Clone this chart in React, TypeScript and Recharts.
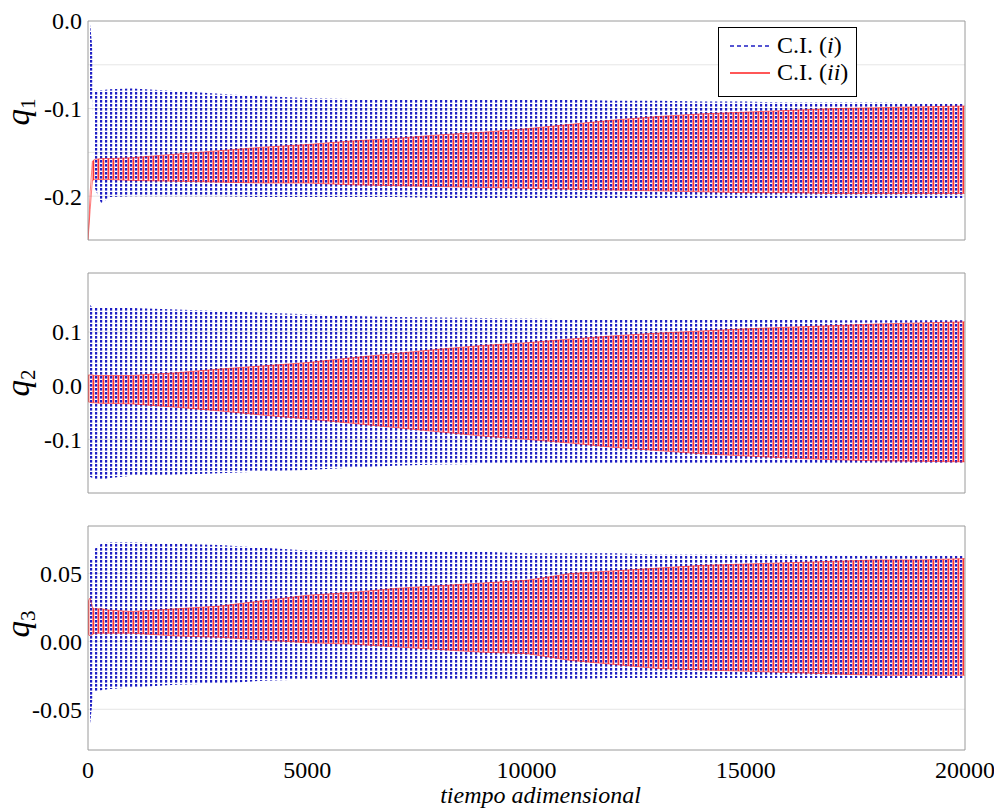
import React from 'react';
import { ComposedChart, Area, XAxis, YAxis, CartesianGrid, Legend } from 'recharts';

// ---- data ----
const T = [0, 50, 100, 150, 300, 500, 1000, 2000, 3000, 4000, 5000, 6000, 7000, 8000, 9000, 10000, 11000, 12000, 13000, 14000, 15000, 16000, 17000, 18000, 19000, 20000];

// envelopes (upper / lower) of the oscillating responses
const Q1_I_HI = [0.0, -0.005, -0.03, -0.08, -0.079, -0.078, -0.077, -0.08, -0.083, -0.086, -0.088, -0.089, -0.089, -0.09, -0.09, -0.09, -0.09, -0.091, -0.091, -0.092, -0.092, -0.093, -0.093, -0.093, -0.094, -0.094];
const Q1_I_LO = [-0.09, -0.09, -0.09, -0.19, -0.208, -0.201, -0.2, -0.2, -0.2, -0.201, -0.201, -0.201, -0.201, -0.202, -0.202, -0.202, -0.202, -0.202, -0.202, -0.202, -0.202, -0.202, -0.202, -0.202, -0.202, -0.202];
const Q1_II_HI = [-0.25, -0.195, -0.16, -0.158, -0.157, -0.157, -0.156, -0.152, -0.148, -0.144, -0.141, -0.137, -0.134, -0.13, -0.127, -0.123, -0.118, -0.113, -0.109, -0.106, -0.104, -0.102, -0.1, -0.099, -0.098, -0.097];
const Q1_II_LO = [-0.25, -0.215, -0.182, -0.181, -0.181, -0.181, -0.182, -0.183, -0.184, -0.185, -0.185, -0.187, -0.188, -0.189, -0.19, -0.191, -0.192, -0.193, -0.194, -0.195, -0.196, -0.196, -0.197, -0.197, -0.197, -0.197];

const Q2_I_HI = [0.16, 0.15, 0.146, 0.145, 0.145, 0.145, 0.145, 0.142, 0.139, 0.136, 0.133, 0.13, 0.128, 0.127, 0.126, 0.125, 0.124, 0.124, 0.123, 0.123, 0.123, 0.123, 0.122, 0.122, 0.122, 0.122];
const Q2_I_LO = [-0.15, -0.17, -0.172, -0.175, -0.176, -0.172, -0.168, -0.166, -0.163, -0.16, -0.157, -0.153, -0.149, -0.147, -0.146, -0.145, -0.145, -0.145, -0.145, -0.145, -0.145, -0.145, -0.145, -0.145, -0.145, -0.145];
const Q2_II_HI = [0.02, 0.02, 0.02, 0.019, 0.019, 0.019, 0.019, 0.024, 0.031, 0.037, 0.043, 0.052, 0.06, 0.068, 0.075, 0.08, 0.087, 0.093, 0.098, 0.102, 0.106, 0.109, 0.112, 0.115, 0.117, 0.119];
const Q2_II_LO = [-0.03, -0.031, -0.032, -0.032, -0.033, -0.033, -0.034, -0.04, -0.047, -0.055, -0.062, -0.07, -0.078, -0.086, -0.094, -0.1, -0.107, -0.115, -0.121, -0.127, -0.131, -0.135, -0.138, -0.14, -0.141, -0.142];

const Q3_I_HI = [0.065, 0.06, 0.06, 0.068, 0.072, 0.073, 0.073, 0.072, 0.071, 0.069, 0.067, 0.067, 0.067, 0.066, 0.066, 0.065, 0.065, 0.065, 0.064, 0.064, 0.064, 0.064, 0.063, 0.063, 0.063, 0.063];
const Q3_I_LO = [-0.072, -0.06, -0.045, -0.037, -0.036, -0.035, -0.034, -0.032, -0.031, -0.029, -0.028, -0.028, -0.028, -0.028, -0.028, -0.028, -0.028, -0.027, -0.027, -0.027, -0.027, -0.027, -0.027, -0.027, -0.027, -0.027];
const Q3_II_HI = [0.03, 0.032, 0.025, 0.024, 0.024, 0.023, 0.022, 0.024, 0.026, 0.03, 0.034, 0.036, 0.039, 0.041, 0.043, 0.045, 0.05, 0.052, 0.054, 0.056, 0.057, 0.058, 0.059, 0.06, 0.06, 0.061];
const Q3_II_LO = [0.005, 0.004, 0.005, 0.006, 0.006, 0.006, 0.006, 0.004, 0.003, 0.001, -0.001, -0.002, -0.004, -0.006, -0.008, -0.009, -0.014, -0.017, -0.02, -0.021, -0.022, -0.023, -0.024, -0.025, -0.025, -0.025];

const SERIES_NAMES = ['C.I. (i)', 'C.I. (ii)'];
const X_MAJOR_TICKS = [0, 5000, 10000, 15000, 20000];
const X_MINOR_TICKS = [0, 500, 1000, 1500, 2000, 2500, 3000, 3500, 4000, 4500, 5000, 5500, 6000, 6500, 7000, 7500, 8000, 8500, 9000, 9500, 10000, 10500, 11000, 11500, 12000, 12500, 13000, 13500, 14000, 14500, 15000, 15500, 16000, 16500, 17000, 17500, 18000, 18500, 19000, 19500, 20000];
const X_GRID = [5000, 10000, 15000];

const Q1_TICKS = [-0.2, -0.1, 0.0];
const Q1_GRID = [-0.2, -0.15, -0.1, -0.05];
const Q2_TICKS = [-0.1, 0.0, 0.1];
const Q2_GRID = [-0.1, 0.0, 0.1];
const Q3_TICKS = [-0.05, 0.0, 0.05];
const Q3_GRID = [-0.05, 0.0, 0.05];

const X_LABEL = 'tiempo adimensional';

const FONT = '"Liberation Serif", "Times New Roman", Times, serif';
const BOX = '#9a9a9a';
const GRID = '#e6e6e6';
const BLUE = '#1e1ec4';
const RED = '#ff1f1f';

function rows(iLo: number[], iHi: number[], iiLo: number[], iiHi: number[]) {
  return T.map((t, k) => ({ t, ci1: [iLo[k], iHi[k]], ci2: [iiLo[k], iiHi[k]] }));
}

const txtStyle = { fontFamily: FONT } as React.CSSProperties;

const LegendBox = () => (
  <svg width={139} height={70} style={{ display: 'block' }}>
    <rect x={0.5} y={0.5} width={138} height={69} fill="#fff" stroke="#000" strokeWidth={1} />
    <line x1={12} x2={52} y1={19} y2={19} stroke={BLUE} strokeWidth={1.4} strokeDasharray="4 3" />
    <line x1={12} x2={52} y1={46} y2={46} stroke={RED} strokeWidth={1.4} />
    <text x={59} y={26} style={txtStyle} fontSize={24} fill="#000">
      {'C.I. ('}<tspan fontStyle="italic">i</tspan>{')'}
    </text>
    <text x={59} y={53} style={txtStyle} fontSize={24} fill="#000">
      {'C.I. ('}<tspan fontStyle="italic">ii</tspan>{')'}
    </text>
  </svg>
);

const makeYTick = (decimals: number) => (props: any) => {
  const { x, y, payload } = props;
  return (
    <text x={x} y={y} dy="0.35em" textAnchor="end" style={txtStyle} fontSize={24} fill="#000">
      {Number(payload.value).toFixed(decimals)}
    </text>
  );
};

const XTick = (props: any) => {
  const { x, y, payload } = props;
  return (
    <text x={x} y={y} dy="0.71em" textAnchor="middle" style={txtStyle} fontSize={24} fill="#000">
      {String(payload.value)}
    </text>
  );
};

type PanelProps = {
  id: string;
  data: any[];
  top: number;
  height: number;
  mTop: number;
  mBottom: number;
  domain: [number, number];
  ticks: number[];
  grid: number[];
  decimals: number;
  sub: string;
  labelCy: number;
  showX?: boolean;
  showLegend?: boolean;
};

function Panel(p: PanelProps) {
  const yTickMarks = Array.from(new Set([...p.grid, ...p.ticks])).sort((a, b) => a - b);
  return (
    <div style={{ position: 'absolute', left: 0, top: p.top }}>
      <ComposedChart
        width={994}
        height={p.height}
        data={p.data}
        margin={{ top: p.mTop, right: 29, bottom: p.mBottom, left: 0 }}
      >
        <defs>
          <pattern id={`blue${p.id}`} patternUnits="userSpaceOnUse" width={5} height={4}>
            <rect x={0} y={0} width={2.2} height={2.6} fill={BLUE} />
          </pattern>
          <pattern id={`red${p.id}`} patternUnits="userSpaceOnUse" width={5} height={4}>
            <rect x={2.5} y={0} width={1.8} height={4} fill={RED} fillOpacity={0.9} />
          </pattern>
        </defs>
        <CartesianGrid
          xAxisId="t"
          yAxisId="y"
          stroke={GRID}
          verticalValues={X_GRID}
          horizontalValues={p.grid}
        />
        <XAxis
          xAxisId="t"
          type="number"
          dataKey="t"
          domain={[0, 20000]}
          ticks={X_MINOR_TICKS}
          orientation="bottom"
          mirror
          tick={false}
          tickSize={5}
          tickLine={{ stroke: BOX }}
          axisLine={{ stroke: BOX }}
          allowDataOverflow
        />
        <XAxis
          xAxisId="top"
          type="number"
          dataKey="t"
          domain={[0, 20000]}
          ticks={X_MINOR_TICKS}
          orientation="top"
          mirror
          tick={false}
          tickSize={5}
          tickLine={{ stroke: BOX }}
          axisLine={{ stroke: BOX }}
          allowDataOverflow
        />
        {p.showX && (
          <XAxis
            xAxisId="lab"
            type="number"
            dataKey="t"
            domain={[0, 20000]}
            ticks={X_MAJOR_TICKS}
            orientation="bottom"
            height={59}
            tickLine={false}
            axisLine={false}
            tickMargin={5}
            tick={XTick}
            label={(props: any) => {
              const vb = props.viewBox || {};
              return (
                <text
                  x={vb.x + vb.width / 2 + 14}
                  y={vb.y + 53}
                  textAnchor="middle"
                  style={txtStyle}
                  fontStyle="italic"
                  fontSize={24}
                  fill="#000"
                >
                  {X_LABEL}
                </text>
              );
            }}
            allowDataOverflow
          />
        )}
        <YAxis
          yAxisId="y"
          type="number"
          domain={p.domain}
          ticks={p.ticks}
          width={88}
          tickLine={false}
          axisLine={false}
          tickSize={6}
          tickMargin={0}
          tick={makeYTick(p.decimals)}
          allowDataOverflow
          label={() => {
            const cy = p.labelCy - p.top;
            return (
              <text
                x={29}
                y={cy}
                transform={`rotate(-90, 29, ${cy})`}
                textAnchor="middle"
                style={txtStyle}
                fill="#000"
              >
                <tspan fontStyle="italic" fontSize={33}>q</tspan>
                <tspan fontSize={21} dy={6}>{p.sub}</tspan>
              </text>
            );
          }}
        />
        <YAxis
          yAxisId="yl"
          type="number"
          orientation="left"
          mirror
          domain={p.domain}
          ticks={yTickMarks}
          tick={false}
          tickSize={5}
          tickLine={{ stroke: BOX }}
          axisLine={{ stroke: BOX }}
          allowDataOverflow
        />
        <YAxis
          yAxisId="yr"
          type="number"
          orientation="right"
          mirror
          domain={p.domain}
          ticks={yTickMarks}
          tick={false}
          tickSize={5}
          tickLine={{ stroke: BOX }}
          axisLine={{ stroke: BOX }}
          allowDataOverflow
        />
        <Area
          xAxisId="t"
          yAxisId="y"
          type="linear"
          dataKey="ci1"
          name={SERIES_NAMES[0]}
          stroke="none"
          fill={`url(#blue${p.id})`}
          fillOpacity={1}
          isAnimationActive={false}
          dot={false}
          activeDot={false}
        />
        <Area
          xAxisId="t"
          yAxisId="y"
          type="linear"
          dataKey="ci2"
          name={SERIES_NAMES[1]}
          stroke={RED}
          strokeWidth={0.8}
          strokeOpacity={0.7}
          fill={`url(#red${p.id})`}
          fillOpacity={1}
          isAnimationActive={false}
          dot={false}
          activeDot={false}
        />
        {p.showLegend && (
          <Legend
            layout="vertical"
            align="center"
            verticalAlign="middle"
            content={() => <LegendBox />}
            wrapperStyle={{ position: 'absolute', left: 718, top: 27 - p.top, width: 139, height: 70 }}
          />
        )}
      </ComposedChart>
    </div>
  );
}

export default function App() {
  return (
    <div style={{ position: 'absolute', left: 0, top: 0, width: 994, height: 809, background: '#fff' }}>
      <Panel
        id="1"
        data={rows(Q1_I_LO, Q1_I_HI, Q1_II_LO, Q1_II_HI)}
        top={0}
        height={260}
        mTop={21}
        mBottom={20}
        domain={[-0.25, 0]}
        ticks={Q1_TICKS}
        grid={Q1_GRID}
        decimals={1}
        sub="1"
        labelCy={112}
        showLegend
      />
      <Panel
        id="2"
        data={rows(Q2_I_LO, Q2_I_HI, Q2_II_LO, Q2_II_HI)}
        top={260}
        height={240}
        mTop={13}
        mBottom={7}
        domain={[-0.2, 0.21]}
        ticks={Q2_TICKS}
        grid={Q2_GRID}
        decimals={1}
        sub="2"
        labelCy={383}
      />
      <Panel
        id="3"
        data={rows(Q3_I_LO, Q3_I_HI, Q3_II_LO, Q3_II_HI)}
        top={500}
        height={309}
        mTop={26}
        mBottom={0}
        domain={[-0.08, 0.085]}
        ticks={Q3_TICKS}
        grid={Q3_GRID}
        decimals={2}
        sub="3"
        labelCy={624}
        showX
      />
    </div>
  );
}
